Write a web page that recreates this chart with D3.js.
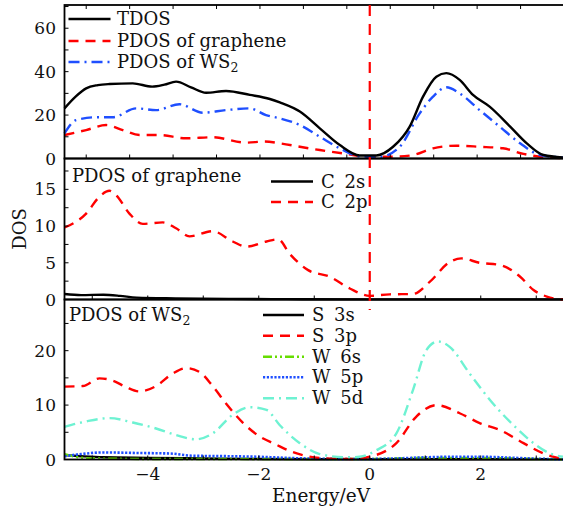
<!DOCTYPE html>
<html>
<head>
<meta charset="utf-8">
<script src="https://cdn.jsdelivr.net/npm/d3@7/dist/d3.min.js"></script>
<style>
body { margin: 0; background: #fff; }
text { font-family: "DejaVu Serif", serif; fill: #111; }
</style>
</head>
<body>
<svg id="chart" width="563" height="510"></svg>
<script>
// energy (eV) / DOS pairs
let tdos = [[-5.5,23.1],[-5.3,28.5],[-5.11,32.3],[-4.9,33.8],[-4.69,34.3],[-4.27,34.6],[-3.92,33.1],[-3.7,34],[-3.49,35.4],[-3.22,32.8],[-2.95,30.3],[-2.59,31.1],[-2.16,29.3],[-1.8,27.4],[-1.62,25.8],[-1.26,21.6],[-0.9,13.9],[-0.54,6.2],[-0.18,1.4],[0.12,1.4],[0.42,5.4],[0.72,14.7],[0.96,28.5],[1.2,37.7],[1.38,39.3],[1.62,36.2],[1.86,29.3],[2.16,23.9],[2.53,14.7],[2.83,7.0],[3.13,1.6],[3.48,0.5]];
let pdosGraphene = [[-5.5,10.8],[-5.11,13.1],[-4.75,15.4],[-4.45,13.1],[-4.15,10.8],[-3.79,10.8],[-3.31,9.3],[-2.83,9.8],[-2.23,7.3],[-1.9,7.8],[-1.62,7.0],[-1.26,5.4],[-0.9,3.9],[-0.42,2.1],[-0.06,0.8],[0.42,0.8],[0.78,1.6],[1.14,4.7],[1.56,5.9],[1.98,5.4],[2.4,4.7],[2.77,2.1],[3.19,0.5],[3.48,0.2]];
let pdosWS2 = [[-5.5,11.6],[-5.29,17.7],[-4.93,19.0],[-4.63,19.0],[-4.21,23.1],[-3.85,22.3],[-3.43,25.0],[-3.01,21.1],[-2.59,22.3],[-2.17,23.1],[-1.87,20.0],[-1.62,18.5],[-1.26,15.4],[-0.9,10.0],[-0.54,4.7],[-0.18,1.0],[0.18,0.8],[0.54,5.4],[0.9,20.8],[1.14,28.5],[1.38,32.8],[1.62,30.0],[1.98,22.3],[2.34,14.7],[2.71,7.0],[3.07,1.6],[3.48,0.5]];

let c2s = [[-5.5,0.75],[-5.2,0.6],[-4.8,0.65],[-4.5,0.5],[-4.2,0.25],[-3.5,0.15],[-2.5,0.08],[-1.5,0.05],[0,0.02],[3.5,0.02]];
let c2p = [[-5.5,9.8],[-5.11,11.7],[-4.87,14.0],[-4.69,14.8],[-4.57,14.2],[-4.33,11.7],[-4.09,10.3],[-3.73,10.5],[-3.49,9.7],[-3.25,8.6],[-2.83,9.3],[-2.47,7.9],[-2.22,7.2],[-1.86,7.9],[-1.65,8.2],[-1.44,6.2],[-1.11,4.0],[-0.72,3.1],[-0.36,1.5],[0,0.5],[0.36,0.7],[0.78,0.75],[1.08,2.4],[1.44,5.1],[1.65,5.6],[1.98,5.0],[2.35,4.7],[2.71,3.1],[2.95,1.3],[3.19,0.4],[3.48,0]];

let s3s = [[-5.5,0.8],[-5.2,0.6],[-4.8,0.4],[-4.0,0.3],[-3.0,0.2],[-2.0,0.1],[-1.0,0.05],[3.5,0.05]];
let s3p = [[-5.5,13.4],[-5.17,13.5],[-4.87,14.9],[-4.63,14.5],[-4.39,13.3],[-4.15,12.5],[-3.85,13.5],[-3.55,15.8],[-3.31,16.8],[-3.07,16.1],[-2.83,13.5],[-2.59,10.3],[-2.28,6.7],[-1.98,4.2],[-1.7,2.8],[-1.4,1.4],[-1.14,0.65],[-0.72,0.15],[-0.3,0.1],[0,0.5],[0.48,3.0],[0.84,7.9],[1.2,10.0],[1.62,8.5],[1.98,6.7],[2.35,5.4],[2.77,3.0],[3.13,1.1],[3.48,0.1]];
let w6s = [[-5.5,1.0],[-5.3,0.5],[-5.0,0.2],[-4.0,0.1],[-2.0,0.1],[0,0.1],[1.0,0.3],[2.0,0.3],[3.0,0.1],[3.5,0.05]];
let w5p = [[-5.5,0.6],[-5.2,1.0],[-4.8,1.3],[-4.2,1.2],[-3.6,1.1],[-3.2,0.7],[-2.5,0.6],[-2.0,0.5],[-1.5,0.3],[-1.0,0.15],[-0.5,0.1],[0,0.1],[0.5,0.2],[1.0,0.4],[1.5,0.5],[2.0,0.5],[2.5,0.35],[3.0,0.15],[3.5,0.05]];
let w5d = [[-5.5,6.0],[-5.11,7.0],[-4.69,7.6],[-4.27,6.8],[-3.85,5.7],[-3.49,4.5],[-3.13,3.7],[-2.83,4.8],[-2.47,8.2],[-2.16,9.6],[-1.86,9.1],[-1.62,6.3],[-1.26,3.0],[-0.9,1.0],[-0.42,0.4],[-0.18,0.5],[0.12,1.7],[0.48,4.8],[0.78,12.8],[1.02,20.1],[1.23,21.7],[1.44,20.7],[1.8,15.8],[2.17,10.9],[2.59,6.3],[2.95,3.0],[3.25,1.1],[3.48,0.5]];

let xTickLabels = [-4, -2, 0, 2];
let panel1YTicks = [0, 20, 40, 60];
let panel2YTicks = [0, 5, 10, 15];
let panel3YTicks = [0, 10, 20];

const red = "#ff0000", blue = "#1f4fff", green = "#66dd00", cyan = "#6ef2d2";
const DASH = "10,7", DASHDOT = "11,5,2,5", DASHDOTDOT = "9,3,2,3,2,3", DOT = "2.2,1.6";

let svg = d3.select("#chart");
let left = 64.5, right = 564;

let x = d3.scaleLinear().domain([-5.5, 3.5]).range([left, right]);

let panels = [
	{top: 5, bottom: 158.5, ymax: 70.7, ticks: panel1YTicks, minor: 10, topScale: true,
	 series: [
		{data: pdosGraphene, color: red, dash: DASH, name: "PDOS of graphene"},
		{data: pdosWS2, color: blue, dash: DASHDOT, name: "PDOS of WS", sub: "2"},
		{data: tdos, color: "#000", dash: null, name: "TDOS"}
	 ]},
	{top: 158.5, bottom: 299.5, ymax: 19.2, ticks: panel2YTicks, minor: 2.5,
	 series: [
		{data: c2s, color: "#000", dash: null, name: "C 2s", ws: 4},
		{data: c2p, color: red, dash: DASH, name: "C 2p", ws: 4}
	 ]},
	{top: 299.5, bottom: 459.5, ymax: 29.4, ticks: panel3YTicks, minor: 5,
	 series: [
		{data: s3s, color: "#000", dash: null, name: "S 3s", ws: 4},
		{data: w6s, color: green, dash: DASHDOTDOT, name: "W 6s", ws: 4},
		{data: w5p, color: blue, dash: DOT, name: "W 5p", ws: 4},
		{data: s3p, color: red, dash: DASH, name: "S 3p", ws: 4},
		{data: w5d, color: cyan, dash: DASHDOT, name: "W 5d", ws: 4}
	 ]}
];

// panel 1 frame ticks follow their own spacing in the original
let topTick = d3.scaleLinear().domain([-0.5, 11]).range([left, right]);

panels.forEach(function(p, i){
	p.y = d3.scaleLinear().domain([0, p.ymax]).range([p.bottom, p.top]);
	let g = svg.append("g").attr("class", "panel" + i);

	let line = d3.line()
		.x(d => x(d[0]))
		.y(d => p.y(d[1]))
		.curve(d3.curveMonotoneX);

	g.append("g")
		.attr("fill", "none")
		.selectAll("path")
		.data(p.series)
		.join("path")
		.attr("stroke", d => d.color)
		.attr("stroke-dasharray", d => d.dash)
		.attr("stroke-width", d => d.dash === DOT ? 2.6 : 2.4)
		.attr("d", d => line(d.data));

	// y ticks, inward
	let yt = d3.range(0, p.ymax, p.minor);
	g.append("g").selectAll("line")
		.data(yt)
		.join("line")
		.attr("x1", left).attr("x2", left + 4)
		.attr("y1", d => p.y(d)).attr("y2", d => p.y(d))
		.attr("stroke", "#000").attr("stroke-width", 1);

	g.append("g").selectAll("text")
		.data(p.ticks)
		.join("text")
		.attr("x", 56)
		.attr("y", d => p.y(d) + 6)
		.attr("text-anchor", "end")
		.attr("font-size", 17)
		.text(d => d);

	// x ticks
	if (p.topScale){
		let tt = d3.range(0, 11);
		g.append("g").selectAll("line.t")
			.data(tt).join("line")
			.attr("x1", d => topTick(d)).attr("x2", d => topTick(d))
			.attr("y1", p.top).attr("y2", p.top + 4)
			.attr("stroke", "#000").attr("stroke-width", 1);
		g.append("g").selectAll("line.b")
			.data(tt).join("line")
			.attr("x1", d => topTick(d)).attr("x2", d => topTick(d))
			.attr("y1", p.bottom).attr("y2", p.bottom - 4)
			.attr("stroke", "#000").attr("stroke-width", 1);
	} else {
		g.append("g").selectAll("line")
			.data(d3.range(-5, 4))
			.join("line")
			.attr("x1", d => x(d)).attr("x2", d => x(d))
			.attr("y1", p.bottom).attr("y2", p.bottom - 4)
			.attr("stroke", "#000").attr("stroke-width", 1);
	}

	g.append("rect")
		.attr("x", left).attr("y", p.top)
		.attr("width", right - left).attr("height", p.bottom - p.top)
		.attr("fill", "none").attr("stroke", "#000").attr("stroke-width", 1.8);
});

// Fermi level
svg.append("line")
	.attr("x1", x(0)).attr("x2", x(0))
	.attr("y1", panels[0].top).attr("y2", 310)
	.attr("stroke", red).attr("stroke-width", 2.2)
	.attr("stroke-dasharray", "11,8");

// bottom tick labels
svg.append("g").selectAll("text")
	.data(xTickLabels)
	.join("text")
	.attr("x", d => x(d))
	.attr("y", 480)
	.attr("text-anchor", "middle")
	.attr("font-size", 17)
	.text(d => d < 0 ? "\u2212" + Math.abs(d) : d);

svg.append("text")
	.attr("x", 321).attr("y", 502)
	.attr("text-anchor", "middle").attr("font-size", 18.5)
	.text("Energy/eV");

svg.append("text")
	.attr("transform", "translate(26,229) rotate(-90)")
	.attr("text-anchor", "middle").attr("font-size", 18)
	.text("DOS");

function legend(g, items, x0, len, tx, ys){
	items.forEach(function(d, i){
		g.append("line")
			.attr("x1", x0).attr("x2", x0 + len)
			.attr("y1", ys[i]).attr("y2", ys[i])
			.attr("stroke", d.color).attr("stroke-width", 2.6)
			.attr("stroke-dasharray", d.dash);
		let t = g.append("text")
			.attr("x", tx).attr("y", ys[i] + 6)
			.attr("font-size", 18)
			.attr("word-spacing", d.ws || 0)
			.text(d.name);
		if (d.sub) t.append("tspan").attr("font-size", 12.5).attr("dy", 4).text(d.sub);
	});
}

let s1 = panels[0].series;
legend(svg.append("g"), [s1[2], s1[0], s1[1]], 68.5, 42, 117, [19, 41, 62]);

let s2 = panels[1].series;
legend(svg.append("g"), s2, 271, 42, 321, [181.5, 202]);
svg.append("text").attr("x", 72).attr("y", 182).attr("font-size", 18).text("PDOS of graphene");

let s3 = panels[2].series;
legend(svg.append("g"), [s3[0], s3[3], s3[1], s3[2], s3[4]], 263, 41, 312, [315, 335.7, 356.7, 377.3, 398.3]);
let w = svg.append("text").attr("x", 69).attr("y", 321).attr("font-size", 18).text("PDOS of WS");
w.append("tspan").attr("font-size", 12.5).attr("dy", 4).text("2");
</script>
</body>
</html>
